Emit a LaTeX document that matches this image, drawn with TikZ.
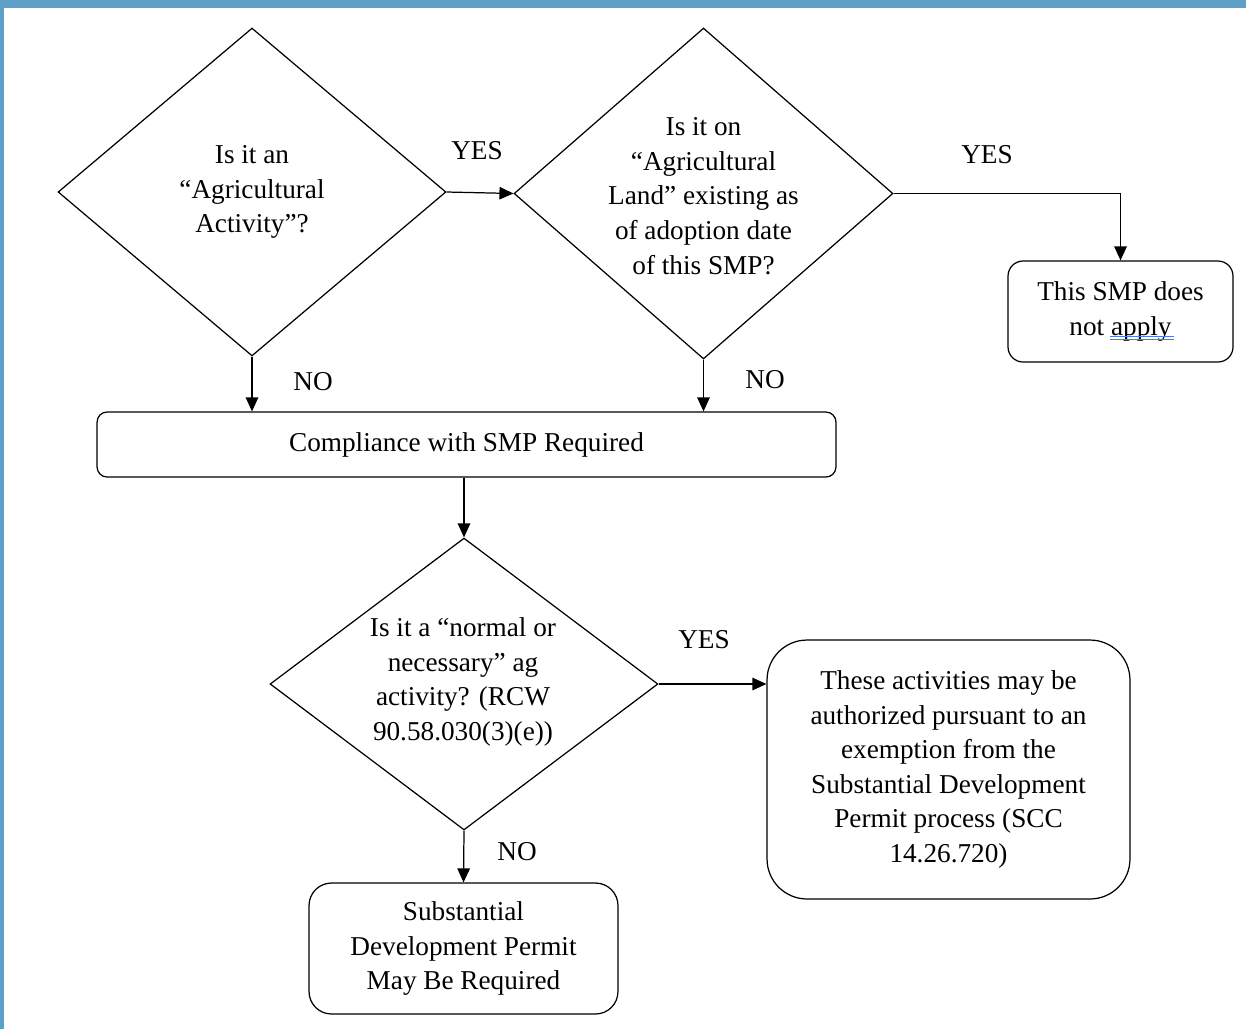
\documentclass[tikz,border=0pt]{standalone}
\usepackage{fontspec}
\setmainfont{Liberation Serif}
\usetikzlibrary{
  positioning,
  shapes.geometric,
  arrows.meta,
}
\definecolor{frameblue}{HTML}{5FA0C8}
\definecolor{spellblue}{HTML}{4A7BE0}
\tikzset{
  >={Triangle[length=2.8mm,width=2.5mm]},
  every node/.style={font=\fontsize{15.5}{19.7}\selectfont},
  decision/.style={
    diamond,
    draw,
    line width=0.7pt,
    inner sep=0pt,
    align=center,
  },
  outcome/.style={
    rectangle,
    draw,
    line width=0.7pt,
    inner sep=0pt,
    align=center,
  },
  flow/.style={
    ->,
    line width=0.7pt,
  },
  answer/.style={
    inner sep=0pt,
  },
  question/.style={
    inner sep=0pt,
    align=center,
  },
}

\begin{document}
\begin{tikzpicture}[x=0.02cm,y=-0.02cm]
  \useasboundingbox (0,0) rectangle (1246,1029);
  \fill[frameblue] (0,0) rectangle (1246,8);
  \fill[frameblue] (0,0) rectangle (4,1029);

  % decisions
  \node[decision, minimum width=7.76cm, minimum height=6.56cm] (agact) at (252,192) {};
  \node[question] (agacttext) at (agact.center) {Is it an\\“Agricultural\\Activity”?};
  \node[decision, minimum width=7.58cm, minimum height=6.62cm] (agland) at (703.5,193.5) {};
  \node[question] (aglandtext) at (703.5,196) {Is it on\\“Agricultural\\Land” existing as\\of adoption date\\of this SMP?};
  \node[decision, minimum width=7.76cm, minimum height=5.84cm] (normal) at (464,684) {};
  \node[question] (normaltext) at (463,682) {Is it a “normal or\\necessary” ag\\activity? (RCW\\90.58.030(3)(e))};

  % outcomes
  \node[outcome, rounded corners=0.3cm, minimum width=4.5cm, minimum height=2.02cm] (nonapp) at (1120.5,311.5)
    {This SMP does\\not apply};
  \node[outcome, rounded corners=0.2cm, minimum width=14.78cm, minimum height=1.3cm] (comply) at (466.5,444.5)
    {Compliance with SMP Required};
  \node[outcome, rounded corners=0.8cm, minimum width=7.26cm, minimum height=5.18cm] (exempt) at (948.5,769.5)
    {These activities may be\\authorized pursuant to an\\exemption from the\\Substantial Development\\Permit process (SCC\\14.26.720)};
  \node[outcome, rounded corners=0.45cm, minimum width=6.18cm, minimum height=2.62cm] (sdp) at (463.5,948.5)
    {Substantial\\Development Permit\\May Be Required};

  % spell check mark
  \draw[spellblue, line width=0.5pt] (1110,336) -- (1174,336);
  \draw[spellblue, line width=0.5pt] (1110,339) -- (1174,339);

  % connectors
  \draw[flow] (agact.east) -- (agland.west);
  \draw[flow] (agland.east) -| (nonapp.north);
  \draw[flow] (agact.south) -- (agact.south |- comply.north);
  \draw[flow] (agland.south) -- (agland.south |- comply.north);
  \draw[flow] (comply.south -| normal.north) -- (normal.north);
  \draw[flow] (normal.east) -- (normal.east -| exempt.west);
  \draw[flow] (normal.south) -- (sdp.north);

  % answers
  \node[answer] (yesa) at (477,151) {YES};
  \node[answer] (yesb) at (987,155) {YES};
  \node[answer] (noa) at (313,382) {NO};
  \node[answer] (nob) at (765,380) {NO};
  \node[answer] (yesc) at (704,640) {YES};
  \node[answer] (noc) at (517,852) {NO};
\end{tikzpicture}
\end{document}
